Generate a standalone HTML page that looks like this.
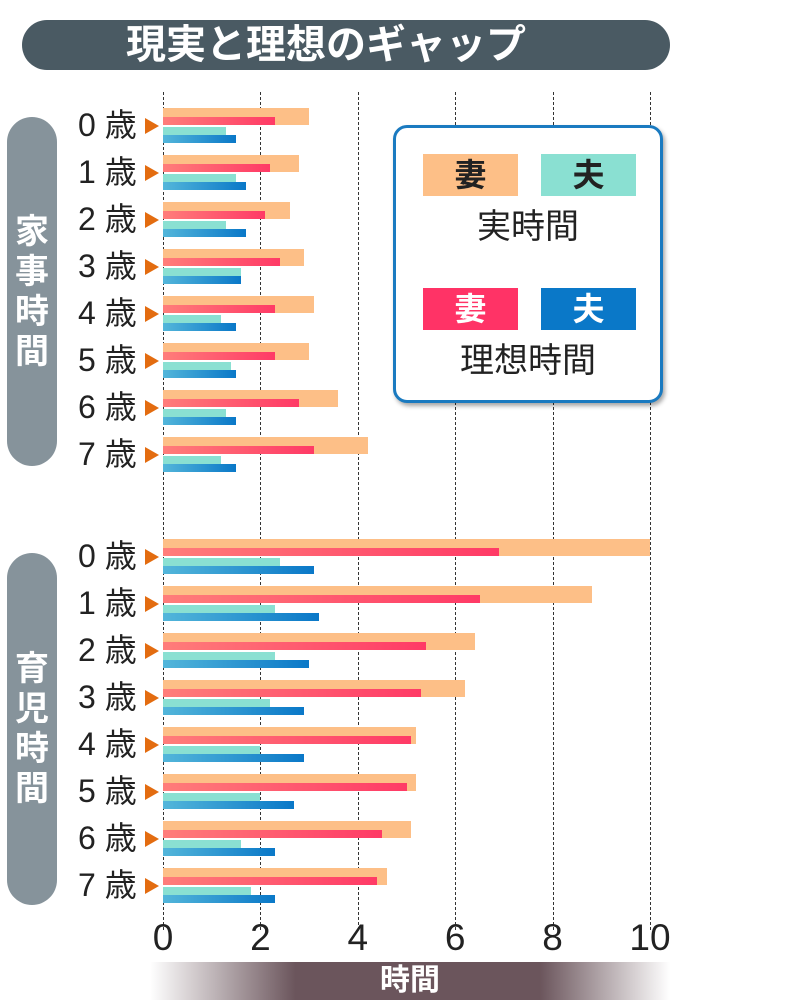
<!DOCTYPE html>
<html><head><meta charset="utf-8"><style>
body{margin:0;width:800px;height:1006px;background:#fff;position:relative;overflow:hidden;font-family:"Liberation Sans","Noto Sans CJK JP",sans-serif}
div{position:absolute;box-sizing:border-box}
.g{border-left:1px dashed #333;width:0;top:92px;height:838px}
.lab{font-size:32px;color:#222;width:80px;left:78px;line-height:32px;white-space:nowrap}
.tri{width:0;height:0;border-left:14px solid #e36c10;border-top:8px solid transparent;border-bottom:8px solid transparent;left:145px}
.o{background:#fdbf87}.r{background:linear-gradient(90deg,#ff7d7a,#ff3a66)}
.t{background:#8ae0d2}.b{background:linear-gradient(90deg,#53b6da,#0a78c8)}
.tick{font-size:37px;color:#222;top:917px;width:70px;text-align:center;font-weight:300}
.pill{left:7px;width:50px;background:#86939b;border-radius:25px;color:#fff;font-size:34px;line-height:40px;text-align:center;display:flex;flex-direction:column;justify-content:center;align-items:center;font-weight:bold}
</style></head><body>
<div style="left:22px;top:20px;width:648px;height:50px;background:#4a5a63;border-radius:25px;color:#fff;font-size:40px;line-height:50px;text-align:center;padding-right:40px;font-weight:bold">現実と理想のギャップ</div>
<div class="pill" style="top:117px;height:349px">家<br>事<br>時<br>間</div>
<div class="pill" style="top:553px;height:352px">育<br>児<br>時<br>間</div>
<div id="c"></div>
<div style="left:393px;top:125px;width:270px;height:278px;border:3px solid #1a7ac0;border-radius:14px;background:#fff;box-shadow:2px 3px 4px rgba(0,0,0,.35)"></div>
<div style="left:423px;top:154px;width:95px;height:42px;background:#fdbf87;font-size:32px;text-align:center;line-height:42px;color:#222;font-weight:bold">妻</div>
<div style="left:541px;top:154px;width:95px;height:42px;background:#8ae0d2;font-size:32px;text-align:center;line-height:42px;color:#222;font-weight:bold">夫</div>
<div style="left:393px;top:207px;width:270px;font-size:34px;text-align:center;color:#222;line-height:40px">実時間</div>
<div style="left:423px;top:288px;width:95px;height:42px;background:#ff3366;font-size:32px;text-align:center;line-height:42px;color:#fff;font-weight:bold">妻</div>
<div style="left:541px;top:288px;width:95px;height:42px;background:#0a78c8;font-size:32px;text-align:center;line-height:42px;color:#fff;font-weight:bold">夫</div>
<div style="left:393px;top:341px;width:270px;font-size:34px;text-align:center;color:#222;line-height:40px">理想時間</div>
<div style="left:150px;top:962px;width:520px;height:38px;background:linear-gradient(90deg,rgba(107,85,92,0),#6b555c 28%,#6b555c 75%,rgba(107,85,92,0));color:#fff;font-size:30px;text-align:center;line-height:38px;font-weight:bold">時間</div>
<script>
var c=document.getElementById('c'),h='';
var x0=163,s=48.7;
for(var i=0;i<=5;i++){h+='<div class="g" style="left:'+(x0+i*2*s)+'px"></div>';h+='<div class="tick" style="left:'+(x0+i*2*s-35)+'px">'+(i*2)+'</div>';}
var d1=[[3,2.3,1.3,1.5],[2.8,2.2,1.5,1.7],[2.6,2.1,1.3,1.7],[2.9,2.4,1.6,1.6],[3.1,2.3,1.2,1.5],[3,2.3,1.4,1.5],[3.6,2.8,1.3,1.5],[4.2,3.1,1.2,1.5]];
var d2=[[10,6.9,2.4,3.1],[8.8,6.5,2.3,3.2],[6.4,5.4,2.3,3],[6.2,5.3,2.2,2.9],[5.2,5.1,2,2.9],[5.2,5,2,2.7],[5.1,4.5,1.6,2.3],[4.6,4.4,1.8,2.3]];
function grp(d,y0){for(var k=0;k<8;k++){var y=y0+k*47,v=d[k];
h+='<div class="o" style="left:'+x0+'px;top:'+y+'px;width:'+v[0]*s+'px;height:17px"></div>';
h+='<div class="r" style="left:'+x0+'px;top:'+(y+9)+'px;width:'+v[1]*s+'px;height:8px"></div>';
h+='<div class="t" style="left:'+x0+'px;top:'+(y+19)+'px;width:'+v[2]*s+'px;height:8px"></div>';
h+='<div class="b" style="left:'+x0+'px;top:'+(y+27)+'px;width:'+v[3]*s+'px;height:8px"></div>';
h+='<div class="lab" style="top:'+(y+1)+'px">'+k+' 歳</div>';
h+='<div class="tri" style="top:'+(y+10)+'px"></div>';}}
grp(d1,108);grp(d2,539);
c.innerHTML=h;
</script>
</body></html>
